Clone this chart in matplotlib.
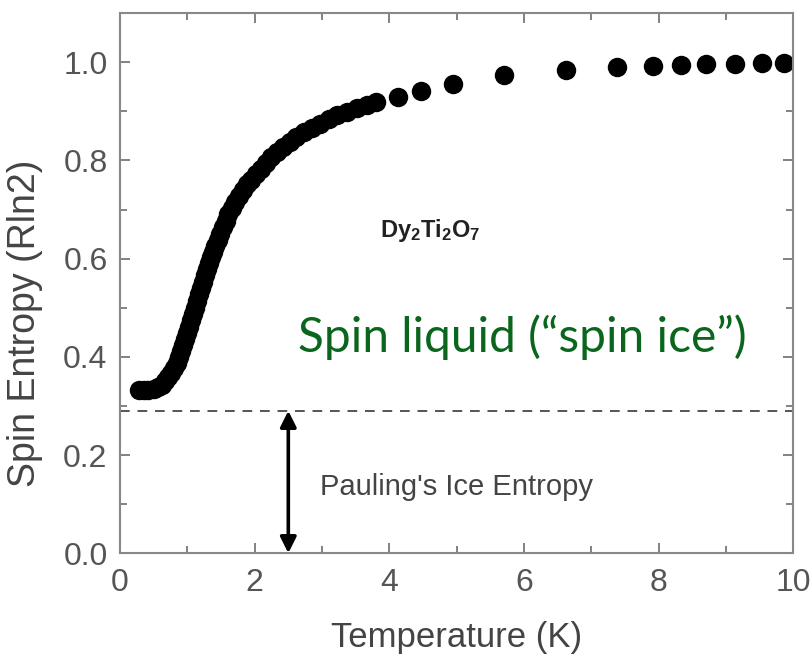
import matplotlib
matplotlib.use('Agg')
import matplotlib.pyplot as plt
from matplotlib.ticker import MultipleLocator

# Dy2Ti2O7 spin entropy vs temperature
temperature = [0.28, 0.35, 0.42, 0.50, 0.56, 0.62, 0.67, 0.72, 0.76, 0.80,
               0.84, 0.87, 0.90, 0.93, 0.96, 0.99, 1.02, 1.05, 1.08, 1.11,
               1.14, 1.17, 1.20, 1.23, 1.26, 1.29, 1.32, 1.35, 1.38, 1.41,
               1.45, 1.49, 1.53, 1.57, 1.61, 1.66, 1.71, 1.77, 1.83, 1.89,
               1.95, 2.02, 2.09, 2.17, 2.25, 2.33, 2.42, 2.52, 2.62, 2.73,
               2.85, 2.97, 3.10, 3.23, 3.37, 3.52, 3.67, 3.81,
               4.13, 4.47, 4.95, 5.71, 6.62, 7.39, 7.92, 8.34, 8.71, 9.14, 9.54, 9.87]
entropy = [0.333, 0.333, 0.333, 0.335, 0.338, 0.343, 0.350, 0.358, 0.367, 0.377,
           0.388, 0.400, 0.412, 0.424, 0.436, 0.448, 0.461, 0.474, 0.487, 0.500,
           0.513, 0.527, 0.540, 0.553, 0.566, 0.579, 0.591, 0.603, 0.614, 0.625,
           0.638, 0.651, 0.664, 0.677, 0.690, 0.703, 0.715, 0.728, 0.740, 0.751,
           0.761, 0.772, 0.782, 0.794, 0.806, 0.817, 0.827, 0.837, 0.847, 0.857,
           0.866, 0.875, 0.884, 0.892, 0.899, 0.906, 0.912, 0.920,
           0.929, 0.941, 0.956, 0.973, 0.985, 0.990, 0.992, 0.994, 0.996, 0.997, 0.998, 0.998]

pauling = 0.29
arrow_x = 2.5

plt.rcParams['font.family'] = ['Liberation Sans', 'DejaVu Sans']
plt.rcParams['mathtext.fontset'] = 'custom'
plt.rcParams['mathtext.rm'] = 'Liberation Sans'
plt.rcParams['mathtext.bf'] = 'Liberation Sans:bold'

fig = plt.figure(figsize=(8.11, 6.57), dpi=100)
ax = fig.add_axes([0.148, 0.158, 0.830, 0.822])

ax.plot(temperature, entropy, 'o', color='black', markersize=14, markeredgewidth=0)
ax.axhline(pauling, color='#555555', linestyle=(0, (5, 4)), linewidth=1.4)
ax.annotate('', xy=(arrow_x, 0.0), xytext=(arrow_x, pauling),
            arrowprops=dict(arrowstyle='<|-|>', color='black', lw=2.6,
                            mutation_scale=24, shrinkA=0, shrinkB=0))

ax.text(3.86, 0.644, r'$\mathbf{Dy_2Ti_2O_7}$', fontsize=17, color='#222222',
        ha='left', va='baseline')
ax.text(2.97, 0.134, "Pauling's Ice Entropy", fontsize=21, color='#444444',
        ha='left', va='center')
ax.text(5.98, 0.409, 'Spin liquid (\u201cspin ice\u201d)', fontsize=34.5,
        color='#0a661c', ha='center', va='baseline', family=['Lato', 'DejaVu Sans'])

ax.set_xlim(0, 10)
ax.set_ylim(0, 1.1)
ax.xaxis.set_major_locator(MultipleLocator(2))
ax.xaxis.set_minor_locator(MultipleLocator(1))
ax.yaxis.set_minor_locator(MultipleLocator(0.1))
ax.set_yticks([0, 0.2, 0.4, 0.6, 0.8, 1.0])
ax.set_yticklabels(['0.0', '0.2', '0.4', '0.6', '0.8', '1.0'])

ax.tick_params(which='both', direction='in', top=True, right=True,
               colors='#777777', labelcolor='#555555', width=1.3)
ax.tick_params(which='major', length=7, labelsize=23)
ax.tick_params(which='minor', length=5)
ax.tick_params(axis='x', pad=11)
ax.tick_params(axis='y', pad=9)
for s in ax.spines.values():
    s.set_color('#888888')
    s.set_linewidth(1.5)

ax.set_xlabel('Temperature (K)', fontsize=25, color='#444444', labelpad=16)
ax.set_ylabel('Spin Entropy (Rln2)', fontsize=27, color='#444444')
ax.yaxis.set_label_coords(-0.114, 0.426)

fig.savefig('out.png', dpi=100)
